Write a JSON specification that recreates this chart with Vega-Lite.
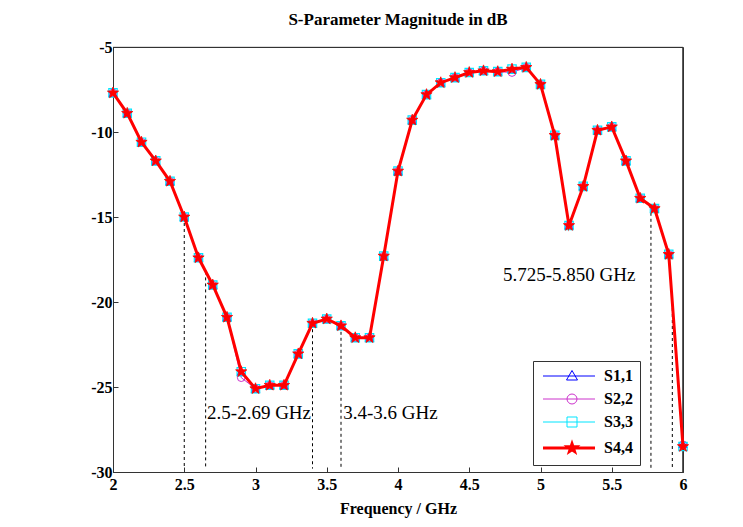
{
  "$schema": "https://vega.github.io/schema/vega-lite/v6.json",
  "width": 570,
  "height": 425,
  "autosize": "none",
  "padding": {"left": 113, "top": 47, "right": 60, "bottom": 55},
  "background": "white",
  "title": {"text": "S-Parameter Magnitude in dB", "font": "Liberation Serif", "fontSize": 17, "fontWeight": "bold", "color": "black", "offset": 10, "anchor": "middle"},
  "config": {"view": {"stroke": "#333", "strokeWidth": 1}},
  "datasets": {
    "curve": [
      {"f": 2.0, "S1,1": -7.7, "S2,2": -7.7, "S3,3": -7.7, "S4,4": -7.7},
      {"f": 2.1, "S1,1": -8.9, "S2,2": -8.9, "S3,3": -8.9, "S4,4": -8.9},
      {"f": 2.2, "S1,1": -10.6, "S2,2": -10.6, "S3,3": -10.6, "S4,4": -10.6},
      {"f": 2.3, "S1,1": -11.7, "S2,2": -11.7, "S3,3": -11.7, "S4,4": -11.7},
      {"f": 2.4, "S1,1": -12.9, "S2,2": -12.9, "S3,3": -12.9, "S4,4": -12.9},
      {"f": 2.5, "S1,1": -15.0, "S2,2": -15.0, "S3,3": -15.0, "S4,4": -15.0},
      {"f": 2.6, "S1,1": -17.4, "S2,2": -17.4, "S3,3": -17.4, "S4,4": -17.4},
      {"f": 2.7, "S1,1": -19.0, "S2,2": -19.0, "S3,3": -19.0, "S4,4": -19.0},
      {"f": 2.8, "S1,1": -20.9, "S2,2": -20.9, "S3,3": -20.9, "S4,4": -20.9},
      {"f": 2.9, "S1,1": -24.1, "S2,2": -24.45, "S3,3": -24.1, "S4,4": -24.1},
      {"f": 3.0, "S1,1": -25.1, "S2,2": -25.1, "S3,3": -25.1, "S4,4": -25.1},
      {"f": 3.1, "S1,1": -24.9, "S2,2": -24.9, "S3,3": -24.9, "S4,4": -24.9},
      {"f": 3.2, "S1,1": -24.9, "S2,2": -24.9, "S3,3": -24.9, "S4,4": -24.9},
      {"f": 3.3, "S1,1": -23.05, "S2,2": -23.05, "S3,3": -23.05, "S4,4": -23.05},
      {"f": 3.4, "S1,1": -21.25, "S2,2": -21.25, "S3,3": -21.25, "S4,4": -21.25},
      {"f": 3.5, "S1,1": -21.0, "S2,2": -21.0, "S3,3": -21.0, "S4,4": -21.0},
      {"f": 3.6, "S1,1": -21.4, "S2,2": -21.4, "S3,3": -21.4, "S4,4": -21.4},
      {"f": 3.7, "S1,1": -22.1, "S2,2": -22.1, "S3,3": -22.1, "S4,4": -22.1},
      {"f": 3.8, "S1,1": -22.1, "S2,2": -22.1, "S3,3": -22.1, "S4,4": -22.1},
      {"f": 3.9, "S1,1": -17.3, "S2,2": -17.3, "S3,3": -17.3, "S4,4": -17.3},
      {"f": 4.0, "S1,1": -12.3, "S2,2": -12.3, "S3,3": -12.3, "S4,4": -12.3},
      {"f": 4.1, "S1,1": -9.3, "S2,2": -9.3, "S3,3": -9.3, "S4,4": -9.3},
      {"f": 4.2, "S1,1": -7.8, "S2,2": -7.8, "S3,3": -7.8, "S4,4": -7.8},
      {"f": 4.3, "S1,1": -7.1, "S2,2": -7.1, "S3,3": -7.1, "S4,4": -7.1},
      {"f": 4.4, "S1,1": -6.8, "S2,2": -6.8, "S3,3": -6.8, "S4,4": -6.8},
      {"f": 4.5, "S1,1": -6.5, "S2,2": -6.5, "S3,3": -6.5, "S4,4": -6.5},
      {"f": 4.6, "S1,1": -6.4, "S2,2": -6.4, "S3,3": -6.4, "S4,4": -6.4},
      {"f": 4.7, "S1,1": -6.45, "S2,2": -6.45, "S3,3": -6.45, "S4,4": -6.45},
      {"f": 4.8, "S1,1": -6.3, "S2,2": -6.5, "S3,3": -6.3, "S4,4": -6.3},
      {"f": 4.9, "S1,1": -6.2, "S2,2": -6.2, "S3,3": -6.2, "S4,4": -6.2},
      {"f": 5.0, "S1,1": -7.2, "S2,2": -7.2, "S3,3": -7.2, "S4,4": -7.2},
      {"f": 5.1, "S1,1": -10.2, "S2,2": -10.2, "S3,3": -10.2, "S4,4": -10.2},
      {"f": 5.2, "S1,1": -15.5, "S2,2": -15.5, "S3,3": -15.5, "S4,4": -15.5},
      {"f": 5.3, "S1,1": -13.2, "S2,2": -13.2, "S3,3": -13.2, "S4,4": -13.2},
      {"f": 5.4, "S1,1": -9.9, "S2,2": -9.9, "S3,3": -9.9, "S4,4": -9.9},
      {"f": 5.5, "S1,1": -9.7, "S2,2": -9.7, "S3,3": -9.7, "S4,4": -9.7},
      {"f": 5.6, "S1,1": -11.7, "S2,2": -11.7, "S3,3": -11.7, "S4,4": -11.7},
      {"f": 5.7, "S1,1": -13.9, "S2,2": -13.9, "S3,3": -13.9, "S4,4": -13.9},
      {"f": 5.8, "S1,1": -14.5, "S2,2": -14.5, "S3,3": -14.5, "S4,4": -14.5},
      {"f": 5.9, "S1,1": -17.2, "S2,2": -17.2, "S3,3": -17.2, "S4,4": -17.2},
      {"f": 6.0, "S1,1": -28.35, "S2,2": -28.4, "S3,3": -28.5, "S4,4": -28.5}
    ],
    "bands": [
      {"f": 2.5, "top": -15.0, "bottom": -29.8},
      {"f": 2.65, "top": -18.2, "bottom": -29.8},
      {"f": 3.4, "top": -21.25, "bottom": -29.8},
      {"f": 3.6, "top": -21.4, "bottom": -29.8},
      {"f": 5.775, "top": -14.4, "bottom": -29.8},
      {"f": 5.925, "top": -20.0, "bottom": -29.8}
    ],
    "notes": [
      {"f": 2.66, "dB": -26.5, "label": "2.5-2.69 GHz"},
      {"f": 3.615, "dB": -26.5, "label": "3.4-3.6 GHz"},
      {"f": 4.737, "dB": -18.4, "label": "5.725-5.850 GHz"}
    ]
  },
  "layer": [
    {
      "data": {"name": "bands"},
      "mark": {"type": "rule", "color": "black", "strokeWidth": 1, "strokeDash": [3, 3]},
      "encoding": {
        "x": {"field": "f", "type": "quantitative", "scale": {"domain": [2, 6], "nice": false, "zero": false},
          "axis": {"values": [2, 2.5, 3, 3.5, 4, 4.5, 5, 5.5, 6], "labelExpr": "'' + datum.value", "tickSize": -5, "labelPadding": 9, "grid": false,
            "domainColor": "#333", "tickColor": "#333", "labelFont": "Liberation Serif", "labelFontSize": 16, "labelFontWeight": "bold", "labelColor": "black",
            "labelFlush": false, "labelOverlap": false, "title": "Frequency / GHz", "titleFont": "Liberation Serif", "titleFontSize": 16, "titleFontWeight": "bold", "titleColor": "black", "titlePadding": 8}},
        "y": {"field": "top", "type": "quantitative", "scale": {"domain": [-30, -5], "nice": false, "zero": false},
          "axis": {"values": [-30, -25, -20, -15, -10, -5], "labelExpr": "'' + datum.value", "tickSize": -5, "labelPadding": 6, "grid": false,
            "domainColor": "#333", "tickColor": "#333", "labelFont": "Liberation Serif", "labelFontSize": 16, "labelFontWeight": "bold", "labelColor": "black",
            "labelFlush": false, "labelOverlap": false, "title": null}},
        "y2": {"field": "bottom"}
      }
    },
    {
      "data": {"values": [{"edge": "top"}]},
      "mark": {"type": "rule", "color": "#333", "strokeWidth": 1},
      "encoding": {"y": {"datum": -5.02, "type": "quantitative"}}
    },
    {
      "data": {"values": [{"edge": "right"}]},
      "mark": {"type": "rule", "color": "#333", "strokeWidth": 1},
      "encoding": {"x": {"datum": 5.998, "type": "quantitative"}}
    },
    {
      "data": {"name": "notes"},
      "mark": {"type": "text", "align": "left", "baseline": "middle", "font": "Liberation Serif", "fontSize": 19, "color": "black"},
      "encoding": {
        "x": {"field": "f", "type": "quantitative"},
        "y": {"field": "dB", "type": "quantitative"},
        "text": {"field": "label"}
      }
    },
    {
      "data": {"name": "curve"},
      "transform": [{"fold": ["S1,1", "S2,2", "S3,3", "S4,4"], "as": ["series", "dB"]}],
      "encoding": {
        "x": {"field": "f", "type": "quantitative"},
        "y": {"field": "dB", "type": "quantitative"}
      },
      "layer": [
        {"transform": [{"filter": "datum.series === 'S1,1'"}], "mark": {"type": "line", "color": "#0000ff", "strokeWidth": 1}},
        {"transform": [{"filter": "datum.series === 'S1,1'"}], "mark": {"type": "point", "shape": "triangle-up", "filled": false, "color": "#0000ff", "size": 70, "strokeWidth": 1, "opacity": 1}},
        {"transform": [{"filter": "datum.series === 'S2,2'"}], "mark": {"type": "line", "color": "#cc33cc", "strokeWidth": 1}},
        {"transform": [{"filter": "datum.series === 'S2,2'"}], "mark": {"type": "point", "shape": "circle", "filled": false, "color": "#cc33cc", "size": 60, "strokeWidth": 1, "opacity": 1}},
        {"transform": [{"filter": "datum.series === 'S3,3'"}], "mark": {"type": "line", "color": "#00ffff", "strokeWidth": 1}},
        {"transform": [{"filter": "datum.series === 'S3,3'"}], "mark": {"type": "point", "shape": "square", "filled": false, "color": "#00e5ff", "size": 70, "strokeWidth": 1.2, "opacity": 1}},
        {"transform": [{"filter": "datum.series === 'S4,4'"}], "mark": {"type": "line", "strokeWidth": 3},
          "encoding": {"color": {"field": "series", "type": "nominal",
            "scale": {"domain": ["S1,1", "S2,2", "S3,3", "S4,4"], "range": ["#0000ff", "#cc33cc", "#00e5ff", "#ff0000"]},
            "legend": {"orient": "none", "legendX": 420, "legendY": 314, "title": null, "strokeColor": "#333", "fillColor": "white", "padding": 7,
              "labelFont": "Liberation Serif", "labelFontSize": 16, "labelFontWeight": "bold", "labelColor": "black", "labelOffset": 48, "rowPadding": 7, "symbolSize": 100,
              "encode": {"symbols": {"update": {
                "shape": {"signal": "datum.value === 'S1,1' ? 'M-1,0H9.4M4.8,-1.1L5.9,0.8L3.7,0.8Z' : datum.value === 'S2,2' ? 'M-1,0H9.4M5.8,0A1 1 0 1 1 3.8,0A1 1 0 1 1 5.8,0Z' : datum.value === 'S3,3' ? 'M-1,0H9.4M3.8,-1H5.8V1H3.8Z' : 'M-1,0H9.4M4.8,-0.85L5.0,-0.27L5.61,-0.26L5.12,0.1L5.3,0.68L4.8,0.34L4.3,0.68L4.48,0.1L3.99,-0.26L4.6,-0.27Z'"},
                "size": {"value": 100},
                "fill": {"signal": "datum.value === 'S4,4' ? '#ff0000' : 'transparent'"},
                "strokeWidth": {"signal": "datum.value === 'S4,4' ? 3 : 1"},
                "opacity": {"value": 1}
              }}}}}}},
        {"transform": [{"filter": "datum.series === 'S4,4'"}], "mark": {"type": "point", "shape": "M0,-1L0.235,-0.324L0.951,-0.309L0.38,0.124L0.588,0.809L0,0.4L-0.588,0.809L-0.38,0.124L-0.951,-0.309L-0.235,-0.324Z", "filled": true, "color": "#ff0000", "size": 140, "strokeWidth": 0.8, "stroke": "#ff0000", "opacity": 1}}
      ]
    }
  ]
}
